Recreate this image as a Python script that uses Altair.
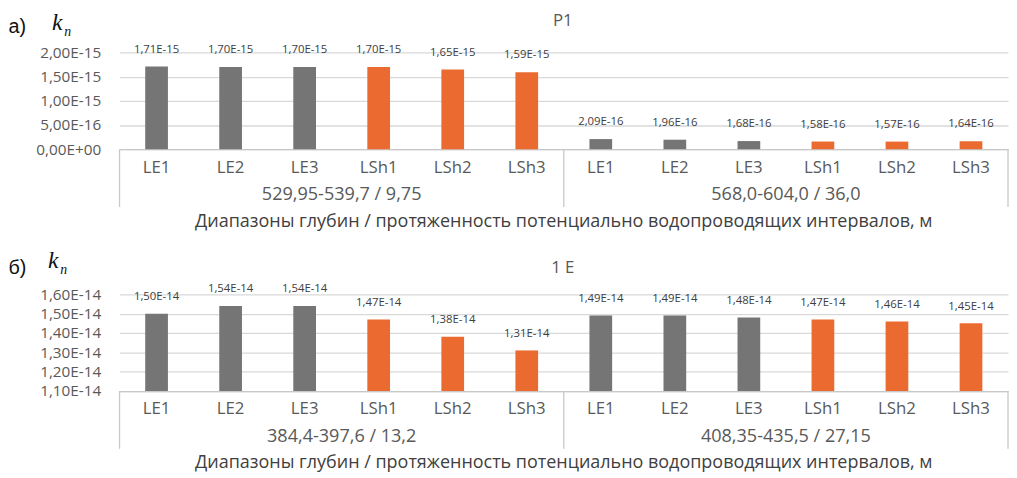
import altair as alt
import pandas as pd

# ---------------- data ----------------
categories = ["LE1", "LE2", "LE3", "LSh1", "LSh2", "LSh3"]
kinds = ["LE", "LE", "LE", "LSh", "LSh", "LSh"]

title_a = "P1"
groups_a = ["529,95-539,7 / 9,75", "568,0-604,0 / 36,0"]
values_a_g1 = [1.71e-15, 1.70e-15, 1.70e-15, 1.70e-15, 1.65e-15, 1.59e-15]
values_a_g2 = [2.09e-16, 1.96e-16, 1.68e-16, 1.58e-16, 1.57e-16, 1.64e-16]
domain_a = [0, 2e-15]
ticks_a = [0, 5e-16, 1e-15, 1.5e-15, 2e-15]

title_b = "1 E"
groups_b = ["384,4-397,6 / 13,2", "408,35-435,5 / 27,15"]
values_b_g1 = [1.50e-14, 1.54e-14, 1.54e-14, 1.47e-14, 1.38e-14, 1.31e-14]
values_b_g2 = [1.49e-14, 1.49e-14, 1.48e-14, 1.47e-14, 1.46e-14, 1.45e-14]
domain_b = [1.1e-14, 1.6e-14]
ticks_b = [1.1e-14, 1.2e-14, 1.3e-14, 1.4e-14, 1.5e-14, 1.6e-14]

axis_title = "Диапазоны глубин / протяженность потенциально водопроводящих интервалов, м"

# ---------------- style ----------------
GRAY = "#757575"
ORANGE = "#EA6A2F"
TEXT = "#595959"
GRID = "#D9D9D9"
LINE = "#C8C8C8"
FONT = "Open Sans"
W = 900
H = 98

FMT = ("datum.value == 0 ? '0,00E+00' : "
       "replace(replace(format(datum.value, '.2e'), '.', ','), 'e', 'E')")


def panel(letter, title, groups, vals1, vals2, domain, ticks, lab_dy, cat_pad,
          k_dx, k_dy, letter_dy, title_dy, grp_dy, ax_dy):
    rows = []
    for g, vals in zip(groups, [vals1, vals2]):
        for c, k, v in zip(categories, kinds, vals):
            rows.append({"key": f"{g}|{c}", "cat": c, "kind": k, "group": g, "value": v})
    df = pd.DataFrame(rows)
    keys = list(df["key"])

    xscale = alt.Scale(domain=keys, paddingInner=0, paddingOuter=0)
    xaxis = alt.Axis(title=None, labelExpr="split(datum.value, '|')[1]", labelAngle=0,
                     ticks=False, labelPadding=cat_pad, labelFontSize=17, labelColor=TEXT,
                     labelFont=FONT, labelBaseline="middle", domainColor=LINE, domainWidth=1.3,
                     grid=False)
    yscale = alt.Scale(domain=domain, zero=False, nice=False)
    yaxis = alt.Axis(title=None, values=ticks, labelExpr=FMT, grid=True, gridColor=GRID,
                     gridWidth=1.3, domain=False, ticks=False, labelPadding=19,
                     labelFontSize=15.5, labelColor=TEXT, labelFont=FONT)

    def X(**kw):
        return alt.X("key:N", sort=keys, scale=xscale, axis=xaxis, **kw)

    bars = alt.Chart(df).mark_bar(size=23).encode(
        x=X(),
        y=alt.Y("value:Q", scale=yscale, axis=yaxis),
        y2=alt.datum(domain[0]),
        color=alt.Color("kind:N", scale=alt.Scale(domain=["LE", "LSh"], range=[GRAY, ORANGE]),
                        legend=None),
    )
    labels = alt.Chart(df).transform_calculate(
        lab=FMT
    ).mark_text(dy=lab_dy, baseline="middle", fontSize=11.5, color="#404040", font=FONT).encode(
        x=X(),
        y=alt.Y("value:Q", scale=yscale, axis=yaxis),
        text="lab:N",
    )

    sep_df = pd.DataFrame({"key": [keys[0], keys[6]]})
    seps = alt.Chart(sep_df).mark_rule(color=LINE, strokeWidth=1.3).encode(
        x=X(bandPosition=0), y=alt.value(H), y2=alt.value(H + 58.5))
    end_df = pd.DataFrame({"key": [keys[-1]]})
    sep_end = alt.Chart(end_df).mark_rule(color=LINE, strokeWidth=1.3).encode(
        x=X(bandPosition=1), y=alt.value(H), y2=alt.value(H + 58.5))

    grp_df = pd.DataFrame({"key": [keys[3], keys[9]], "group": groups})
    grp = alt.Chart(grp_df).mark_text(fontSize=18.3, color=TEXT, font=FONT, baseline="middle").encode(
        x=X(bandPosition=0), y=alt.value(H + grp_dy), text="group:N")

    axt = alt.Chart(pd.DataFrame({"t": [axis_title]})).mark_text(
        fontSize=18.2, color="#404040", font=FONT, baseline="middle").encode(
        x=alt.value(W / 2), y=alt.value(H + ax_dy), text="t:N")

    ttl = alt.Chart(pd.DataFrame({"t": [title]})).mark_text(
        fontSize=17, color=TEXT, font=FONT, baseline="middle").encode(
        x=alt.value(W / 2 - 1), y=alt.value(title_dy), text="t:N")

    let = alt.Chart(pd.DataFrame({"t": [letter]})).mark_text(
        fontSize=20, color="#111111", font="Liberation Sans", align="left",
        baseline="alphabetic").encode(
        x=alt.value(-112.5), y=alt.value(letter_dy), text="t:N")

    k = alt.Chart(pd.DataFrame({"t": ["k"]})).mark_text(
        fontSize=24, color="#111111", font="Liberation Serif", fontStyle="italic",
        align="left", baseline="alphabetic").encode(
        x=alt.value(k_dx), y=alt.value(k_dy), text="t:N")
    n = alt.Chart(pd.DataFrame({"t": ["n"]})).mark_text(
        fontSize=14, color="#111111", font="Liberation Serif", fontStyle="italic",
        align="left", baseline="alphabetic").encode(
        x=alt.value(k_dx + 12.5), y=alt.value(k_dy + 6), text="t:N")

    return alt.layer(bars, labels, seps, sep_end, grp, axt, ttl, let, k, n).properties(
        width=W, height=H)


pa = panel("а)", title_a, groups_a, values_a_g1, values_a_g2, domain_a, ticks_a,
           lab_dy=-17, cat_pad=19, k_dx=-68.5, k_dy=-23, letter_dy=-20, title_dy=-32,
           grp_dy=46.7, ax_dy=73.7)
pb = panel("б)", title_b, groups_b, values_b_g1, values_b_g2, domain_b, ticks_b,
           lab_dy=-17, cat_pad=18, k_dx=-72.5, k_dy=-27, letter_dy=-21, title_dy=-27,
           grp_dy=46.7, ax_dy=72.7)

chart = alt.vconcat(pa, pb, spacing=147, bounds="flush").properties(
    padding={"left": 0, "top": 0, "right": 0, "bottom": 0}
).configure_view(stroke=None)

chart.save("out.html", embed_options={"renderer": "svg", "actions": False})
